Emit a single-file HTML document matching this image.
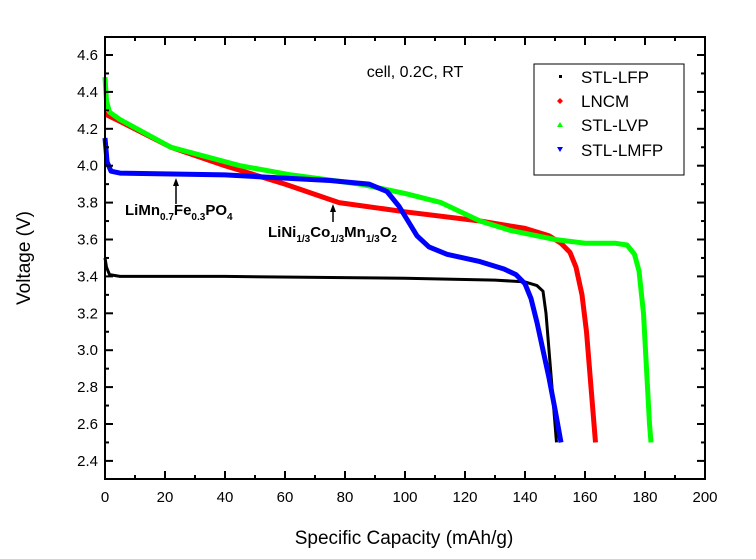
<!DOCTYPE html>
<html><head><meta charset="utf-8"><style>
html,body{margin:0;padding:0;background:#fff;}
svg{display:block;font-family:"Liberation Sans",Arial,sans-serif;}
.t{font-size:15px;fill:#000;}
</style></head><body>
<svg id="s" width="756" height="559" xmlns="http://www.w3.org/2000/svg">
<rect width="756" height="559" fill="#fff"/>
<g id="curves"></g>
<rect x="105" y="37" width="600" height="442" fill="none" stroke="#000" stroke-width="2"/>
<g id="ticks" stroke="#000" stroke-width="2"></g>
<g id="labels" class="t"></g>
<text x="415" y="77" font-size="16" text-anchor="middle">cell, 0.2C, RT</text>
<text x="404" y="544" font-size="19" text-anchor="middle">Specific Capacity (mAh/g)</text>
<text transform="translate(30,258) rotate(-90)" font-size="19" text-anchor="middle">Voltage (V)</text>
<text x="125" y="215" font-size="15" font-weight="bold">LiMn<tspan font-size="10" dy="5">0.7</tspan><tspan dy="-5">Fe</tspan><tspan font-size="10" dy="5">0.3</tspan><tspan dy="-5">PO</tspan><tspan font-size="10" dy="5">4</tspan></text>
<text x="268" y="237" font-size="15" font-weight="bold">LiNi<tspan font-size="10" dy="5">1/3</tspan><tspan dy="-5">Co</tspan><tspan font-size="10" dy="5">1/3</tspan><tspan dy="-5">Mn</tspan><tspan font-size="10" dy="5">1/3</tspan><tspan dy="-5">O</tspan><tspan font-size="10" dy="5">2</tspan></text>
<line x1="176" y1="204" x2="176" y2="184" stroke="#000" stroke-width="1.5"/><polygon points="176,178 173,186 179,186" fill="#000"/>
<line x1="333" y1="222" x2="333" y2="210" stroke="#000" stroke-width="1.5"/><polygon points="333,204 330,212 336,212" fill="#000"/>
<rect x="534" y="64" width="150" height="111" fill="#fff" stroke="#000" stroke-width="1"/>
<rect x="559" y="75" width="3" height="3" fill="#000"/>
<polygon points="560,98 563,101 560,104 557,101" fill="#f00"/>
<polygon points="560,122 563,127 557,127" fill="#0f0"/>
<polygon points="560,152 563,147 557,147" fill="#00f"/>
<text x="581" y="83" font-size="17">STL-LFP</text>
<text x="581" y="107" font-size="17">LNCM</text>
<text x="581" y="131" font-size="17">STL-LVP</text>
<text x="581" y="156" font-size="17">STL-LMFP</text>
</svg>
<script>
var X=function(c){return 105+c*3;},Y=function(v){return 55+(4.6-v)*184.5;};
var ns="http://www.w3.org/2000/svg";
function pl(pts,color,w,dash){var p=document.createElementNS(ns,"polyline");p.setAttribute("points",pts.map(function(a){return X(a[0]).toFixed(1)+","+Y(a[1]).toFixed(1);}).join(" "));p.setAttribute("fill","none");p.setAttribute("stroke",color);p.setAttribute("stroke-width",w);p.setAttribute("stroke-linejoin","round");if(dash)p.setAttribute("stroke-dasharray",dash);document.getElementById("curves").appendChild(p);}
pl([[0,3.5],[0.5,3.45],[1.5,3.41],[5,3.40],[40,3.40],[100,3.39],[130,3.38],[140,3.37],[144,3.35],[146,3.32],[147,3.2],[148,3.0],[149,2.8],[150,2.6],[150.5,2.5]],"#000",3);
pl([[0,4.28],[5,4.24],[22,4.1],[40,4.0],[60,3.9],[78,3.8],[100,3.75],[125,3.7],[140,3.66],[148,3.62],[152,3.58],[155,3.53],[157,3.45],[159,3.3],[160.5,3.1],[162,2.8],[163.5,2.5]],"#f00",5);
pl([[0,4.48],[0.5,4.35],[1.5,4.29],[5,4.25],[22,4.1],[45,4.0],[62,3.95],[85,3.9],[100,3.85],[112,3.8],[125,3.7],[135,3.65],[150,3.6],[160,3.58],[170,3.58],[174,3.57],[176.5,3.52],[178,3.43],[179.5,3.2],[180.5,2.9],[181.5,2.6],[182,2.5]],"#0f0",5);
pl([[0,4.15],[0.7,4.02],[2,3.97],[5,3.96],[40,3.95],[75,3.92],[88,3.9],[94,3.86],[98,3.78],[101,3.7],[104,3.62],[108,3.56],[114,3.52],[125,3.48],[133,3.44],[137,3.41],[140,3.36],[142,3.28],[144,3.15],[146,3.0],[148,2.85],[150,2.68],[152,2.5]],"#00f",5);
var tk=document.getElementById("ticks"),lb=document.getElementById("labels");
function ln(a,b,c,d){var l=document.createElementNS(ns,"line");l.setAttribute("x1",a);l.setAttribute("y1",b);l.setAttribute("x2",c);l.setAttribute("y2",d);tk.appendChild(l);}
function tx(x,y,s,a){var t=document.createElementNS(ns,"text");t.setAttribute("x",x);t.setAttribute("y",y);t.setAttribute("text-anchor",a);t.textContent=s;lb.appendChild(t);}
for(var c=0;c<=200;c+=10){var x=X(c),L=(c%20==0)?8:4;ln(x,479,x,479-L);ln(x,37,x,37+L);if(c%20==0)tx(x,502,String(c),"middle");}
for(var i=0;i<=22;i++){var v=2.4+i*0.1,y=Y(v);if(y<38)continue;var L=(i%2==0)?8:4;ln(105,y,105+L,y);ln(705,y,705-L,y);if(i%2==0)tx(98,y+5,v.toFixed(1),"end");}
</script>
</body></html>
